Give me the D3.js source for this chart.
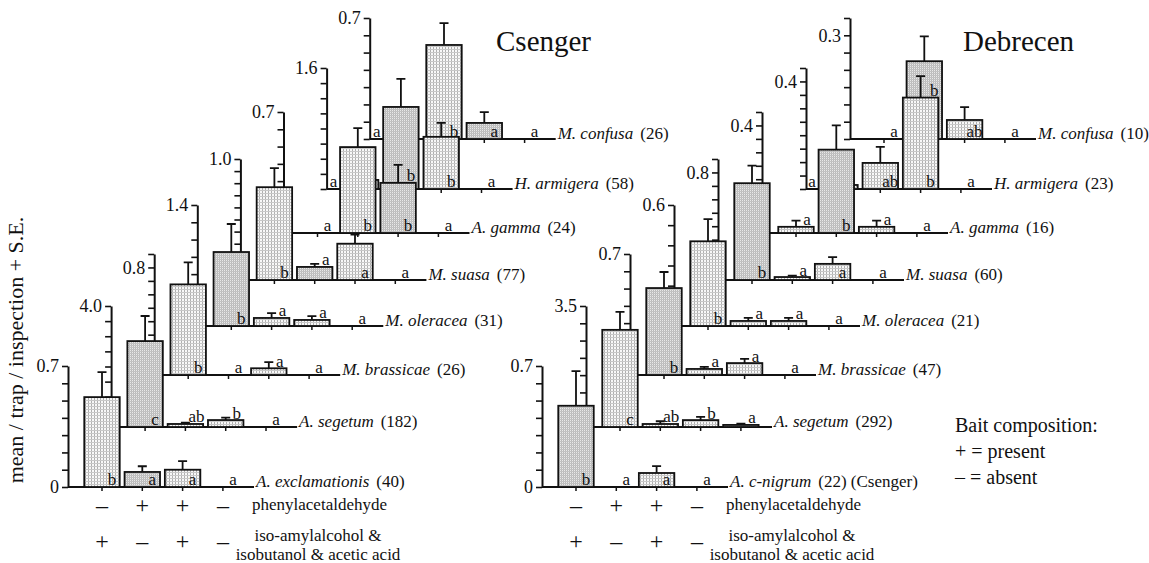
<!DOCTYPE html>
<meta charset="utf-8">
<script src="https://d3js.org/d3.v7.min.js"></script>
<style>
  body { margin: 0; background: #fff; }
  text { font-family: "Liberation Serif", "Times New Roman", serif; fill: #111; }
</style>
<div id="chart"></div>
<script>
// bait composition of the 4 treatments
var cats = [0, 1, 2, 3];
var phenylRow = ["\u2013", "+", "+", "\u2013"];
var isoRow = ["+", "\u2013", "+", "\u2013"];

// Csenger (layers listed front/bottom -> back/top)
var csSpecies = ["A. exclamationis", "A. segetum", "M. brassicae", "M. oleracea", "M. suasa", "A. gamma", "H. armigera", "M. confusa"];
var csN = [40, 182, 26, 31, 77, 24, 58, 26];
var csNote = ["", "", "", "", "", "", "", ""];
var csMean = [
  [0.52, 0.087, 0.10, 0],
  [2.84, 0.10, 0.23, 0],
  [0.674, 0, 0.05, 0],
  [0.856, 0.093, 0.07, 0],
  [0.767, 0.108, 0.30, 0],
  [0, 0.497, 0.29, 0],
  [0.12, 1.085, 0.69, 0],
  [0, 0.544, 0.093, 0]
];
var csSE = [
  [0.145, 0.033, 0.05, 0],
  [0.83, 0.04, 0.08, 0],
  [0.163, 0, 0.046, 0],
  [0.324, 0.057, 0.045, 0],
  [0.158, 0.025, 0.075, 0],
  [0, 0.11, 0.104, 0],
  [0.05, 0.37, 0.185, 0],
  [0, 0.126, 0.063, 0]
];
var csLetters = [
  ["b", "a", "a", "a"],
  ["c", "ab", "b", "a"],
  ["b", "a", "a", "a"],
  ["b", "a", "a", "a"],
  ["b", "a", "a", "a"],
  ["a", "b", "b", "a"],
  ["a", "b", "b", "a"],
  ["a", "b", "a", "a"]
];
var csAxisMax = [0.7, 4.0, 0.9, 1.4, 1.0, 0.7, 1.6, 0.7];
var csAxisLabel = [0.7, 4.0, 0.8, 1.4, 1.0, 0.7, 1.6, 0.7];
var csTickStep = [0.1, 0.5, 0.1, 0.2, 0.1, 0.1, 0.2, 0.1];

// Debrecen
var dbSpecies = ["A. c-nigrum", "A. segetum", "M. brassicae", "M. oleracea", "M. suasa", "A. gamma", "H. armigera", "M. confusa"];
var dbN = [22, 292, 47, 21, 60, 16, 23, 10];
var dbNote = ["(Csenger)", "", "", "", "", "", "", ""];
var dbMean = [
  [0.47, 0, 0.081, 0],
  [2.81, 0.087, 0.20, 0.06],
  [0.503, 0.035, 0.069, 0],
  [0.42, 0.025, 0.025, 0],
  [0.72, 0.022, 0.12, 0],
  [0.023, 0.31, 0.023, 0],
  [0.015, 0.097, 0.34, 0],
  [0, 0.225, 0.055, 0]
];
var dbSE = [
  [0.20, 0, 0.04, 0],
  [0.52, 0.08, 0.09, 0.04],
  [0.093, 0.012, 0.024, 0],
  [0.11, 0.015, 0.015, 0],
  [0.13, 0.01, 0.05, 0],
  [0.023, 0.09, 0.023, 0],
  [0, 0.06, 0.08, 0],
  [0, 0.072, 0.037, 0]
];
var dbLetters = [
  ["b", "a", "a", "a"],
  ["c", "ab", "b", "a"],
  ["b", "a", "a", "a"],
  ["b", "a", "a", "a"],
  ["b", "a", "a", "a"],
  ["a", "b", "a", "a"],
  ["a", "ab", "b", "a"],
  ["a", "b", "ab", "a"]
];
var dbAxisMax = [0.7, 3.5, 0.7, 0.6, 0.9, 0.45, 0.45, 0.35];
var dbAxisLabel = [0.7, 3.5, 0.7, 0.6, 0.8, 0.4, 0.4, 0.3];
var dbTickStep = [0.1, 0.5, 0.1, 0.1, 0.1, 0.05, 0.05, 0.05];

// which bars use the denser hatch (per layer)
var csDense = [[1], [0], [], [0], [1], [2], [1], [2]];
var dbDense = [[0], [3], [0], [], [0], [1], [], [1]];

// ---- layout ----
var width = 1149, height = 563;
var baseY = [487, 427, 375, 326, 280, 233, 189, 139];
var axisH = 121, catStep = 40.3, firstCat = 34, ink = "#111";

var svg = d3.select("#chart").append("svg")
  .attr("width", width).attr("height", height);

var defs = svg.append("defs");
function addPattern(id, size, bg, vcol, hcol) {
  var p = defs.append("pattern").attr("id", id)
    .attr("patternUnits", "userSpaceOnUse")
    .attr("width", size).attr("height", size);
  p.append("rect").attr("width", size).attr("height", size).attr("fill", bg);
  p.append("rect").attr("x", 1).attr("width", 1).attr("height", size).attr("fill", vcol);
  p.append("rect").attr("y", 1).attr("width", size).attr("height", 1).attr("fill", hcol);
}
addPattern("hatchLight", 3, "#f8f8f8", "#b0b0b0", "#c8c8c8");
addPattern("hatchDense", 2, "#e8e8e8", "#b8b8b8", "#c2c2c2");

function drawPanel(p) {
  var n = p.species.length;
  // scales and bar geometry per layer
  var layers = p.species.map(function (s, i) {
    var ax = p.axis0 + i * p.step;
    var y = d3.scaleLinear().domain([0, p.axisMax[i]]).range([baseY[i], baseY[i] - axisH]);
    var x = d3.scaleBand().domain(cats)
      .range([ax + firstCat - catStep / 2, ax + firstCat + catStep * 3.5])
      .paddingInner(0.12).paddingOuter(0.06);
    var bars = cats.map(function (c) {
      var m = p.mean[i][c];
      return {
        c: c, mean: m, se: p.se[i][c], letter: p.letters[i][c],
        x0: x(c), x1: x(c) + x.bandwidth(), cx: x(c) + x.bandwidth() / 2,
        top: y(m), base: baseY[i], dense: p.dense[i].indexOf(c) >= 0
      };
    });
    return { i: i, ax: ax, x: x, y: y, bars: bars };
  });

  // letter positions: inside tall bars, above short ones, moved when a front bar hides them
  layers.forEach(function (L) {
    L.bars.forEach(function (b) {
      var h = b.base - b.top;
      var low = h < 14;
      var lx = b.cx + 10, ly = b.base - 2.5;
      if (h > 0 && low) { lx = b.cx + 11; ly = b.top - 1.5; }
      for (var j = L.i - 1; j >= 0; j--) {
        layers[j].bars.forEach(function (o) {
          if (o.mean <= 0) return;
          if (lx > o.x0 - 3 && lx < o.x1 + 3 && ly - 1 > o.top && ly - 11 < o.base) {
            if (low) { lx = o.x0 - 6.5; ly = b.base - 2.5; }
            else ly = o.top - 2;
          }
        });
      }
      b.lx = lx; b.ly = ly;
    });
  });

  var panel = svg.append("g");
  // draw from back (top layer) to front (bottom layer)
  for (var k = n - 1; k >= 0; k--) {
    var L = layers[k];
    var g = panel.append("g");
    var ticks = d3.range(0, Math.round(p.axisMax[k] / p.tickStep[k]) + 1).map(function (t) { return t * p.tickStep[k]; });
    var lab = p.axisLabel[k], isFirst = k === 0;

    g.append("g")
      .attr("transform", "translate(" + L.ax + ",0)")
      .call(d3.axisLeft(L.y).tickValues(ticks).tickSize(6).tickSizeOuter(0).tickPadding(3)
        .tickFormat(function (d) {
          if (Math.abs(d - lab) < 1e-9) return d3.format(".1f")(d);
          if (isFirst && d === 0) return "0";
          return "";
        }))
      .call(function (a) {
        a.attr("font-size", null).attr("font-family", null);
        a.select(".domain").attr("stroke", ink).attr("stroke-width", 2);
        a.selectAll(".tick line").attr("stroke", ink).attr("stroke-width", 1.6);
        a.selectAll(".tick text").attr("fill", ink).style("font-size", "18px");
      });

    // baseline with category ticks
    g.append("line")
      .attr("x1", L.ax).attr("x2", L.ax + 186)
      .attr("y1", baseY[k]).attr("y2", baseY[k])
      .attr("stroke", ink).attr("stroke-width", 2);
    g.selectAll(".ctick").data(L.bars).enter().append("line")
      .attr("x1", function (b) { return b.cx; }).attr("x2", function (b) { return b.cx; })
      .attr("y1", baseY[k]).attr("y2", baseY[k] + 4)
      .attr("stroke", ink).attr("stroke-width", 1.5);

    var shown = L.bars.filter(function (b) { return b.mean > 0; });
    g.selectAll(".bar").data(shown).enter().append("rect")
      .attr("x", function (b) { return b.x0; })
      .attr("y", function (b) { return b.top; })
      .attr("width", function (b) { return b.x1 - b.x0; })
      .attr("height", function (b) { return b.base - b.top; })
      .attr("fill", function (b) { return b.dense ? "url(#hatchDense)" : "url(#hatchLight)"; })
      .attr("stroke", ink).attr("stroke-width", 1.8);

    var withErr = shown.filter(function (b) { return b.se > 0; });
    g.selectAll(".err").data(withErr).enter().append("path")
      .attr("d", function (b) {
        var ye = L.y(b.mean + b.se);
        return "M" + b.cx + "," + b.top + "V" + ye + "M" + (b.cx - 4.5) + "," + ye + "H" + (b.cx + 4.5);
      })
      .attr("fill", "none").attr("stroke", ink).attr("stroke-width", 1.8);

    g.selectAll(".letter").data(L.bars).enter().append("text")
      .attr("x", function (b) { return b.lx; })
      .attr("y", function (b) { return b.ly; })
      .attr("text-anchor", "middle")
      .style("font-size", "17px")
      .text(function (b) { return b.letter; });

    var sp = g.append("text")
      .attr("x", L.ax + 188).attr("y", baseY[k] - 0.5)
      .style("font-size", "17px");
    sp.append("tspan").style("font-style", "italic").text(p.species[k]);
    sp.append("tspan").attr("dx", 7).text("(" + p.n[k] + ")" + (p.note[k] ? " " + p.note[k] : ""));
  }

  // bait composition rows under the front layer
  var front = layers[0];
  panel.selectAll(".row1").data(front.bars).enter().append("text")
    .attr("x", function (b) { return b.cx; }).attr("y", 513)
    .attr("text-anchor", "middle").style("font-size", "24px")
    .text(function (b) { return phenylRow[b.c]; });
  panel.selectAll(".row2").data(front.bars).enter().append("text")
    .attr("x", function (b) { return b.cx; }).attr("y", 549)
    .attr("text-anchor", "middle").style("font-size", "24px")
    .text(function (b) { return isoRow[b.c]; });
  panel.append("text").attr("x", p.axis0 + 184).attr("y", 510)
    .style("font-size", "17px").text("phenylacetaldehyde");
  panel.append("text").attr("x", p.axis0 + 250).attr("y", 541)
    .attr("text-anchor", "middle").style("font-size", "17px").text("iso-amylalcohol &");
  panel.append("text").attr("x", p.axis0 + 250).attr("y", 560)
    .attr("text-anchor", "middle").style("font-size", "17px").text("isobutanol & acetic acid");

  panel.append("text").attr("x", p.titleX).attr("y", 51)
    .style("font-size", "29px").text(p.name);
}

drawPanel({
  name: "Csenger", titleX: 496, axis0: 68, step: 43.1,
  species: csSpecies, n: csN, note: csNote, mean: csMean, se: csSE, letters: csLetters,
  axisMax: csAxisMax, axisLabel: csAxisLabel, tickStep: csTickStep, dense: csDense
});
drawPanel({
  name: "Debrecen", titleX: 963, axis0: 542, step: 44,
  species: dbSpecies, n: dbN, note: dbNote, mean: dbMean, se: dbSE, letters: dbLetters,
  axisMax: dbAxisMax, axisLabel: dbAxisLabel, tickStep: dbTickStep, dense: dbDense
});

// y axis title
svg.append("text")
  .attr("transform", "translate(23,350) rotate(-90)")
  .attr("text-anchor", "middle")
  .style("font-size", "22px")
  .text("mean / trap / inspection + S.E.");

// legend
var legend = svg.append("g").attr("transform", "translate(955,0)");
legend.append("text").attr("y", 432).style("font-size", "20px").text("Bait composition:");
legend.append("text").attr("y", 458).style("font-size", "20px").text("+ = present");
legend.append("text").attr("y", 484).style("font-size", "20px").text("\u2013 = absent");
</script>
